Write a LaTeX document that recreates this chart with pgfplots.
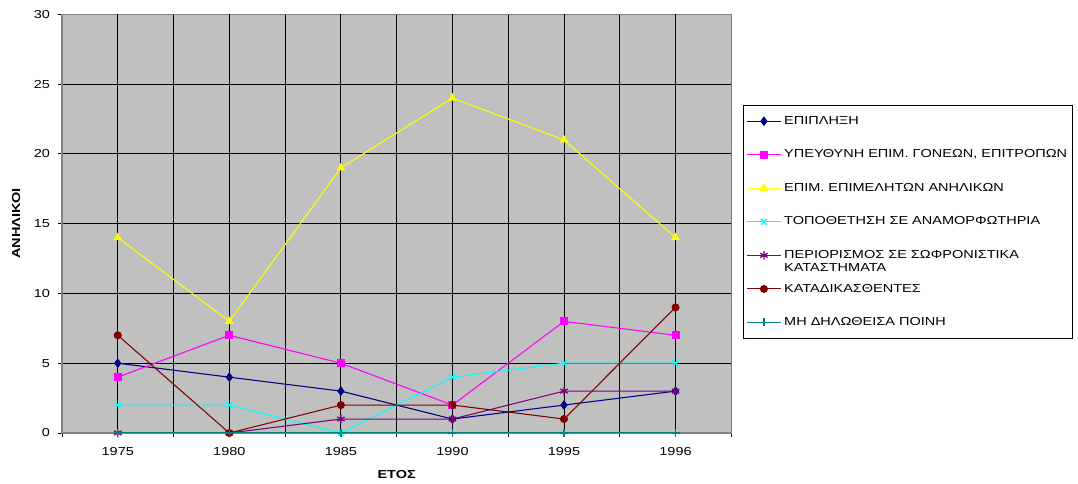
\documentclass[border=0pt]{standalone}
\usepackage{pgfplots}
\pgfplotsset{compat=1.18}
\usepackage{fontspec}
\setmainfont[FakeStretch=1.25]{Liberation Sans}

\definecolor{xlNavy}{RGB}{0,0,128}
\definecolor{xlMagenta}{RGB}{255,0,255}
\definecolor{xlYellow}{RGB}{255,255,0}
\definecolor{xlCyan}{RGB}{0,255,255}
\definecolor{xlPurple}{RGB}{128,0,128}
\definecolor{xlDarkRed}{RGB}{128,0,0}
\definecolor{xlTeal}{RGB}{0,128,128}
\definecolor{plotGray}{RGB}{192,192,192}
\definecolor{frameGray}{RGB}{128,128,128}

\newcommand{\lstrut}{\rule[-2.8pt]{0pt}{9pt}}

\begin{document}
\begin{tikzpicture}
\begin{axis}[
    width=502pt, height=314pt, scale only axis,
    xmin=-0.5, xmax=5.5, ymin=0, ymax=30,
    xtick={-0.5,0.5,...,5.5}, xticklabels={},
    extra x ticks={0,1,2,3,4,5},
    extra x tick labels={1975,1980,1985,1990,1995,1996},
    extra x tick style={grid=major, major tick length=0pt},
    ytick={0,5,...,30},
    grid=major,
    major grid style={black, line width=0.6pt},
    tick align=outside, major tick length=3pt, tick pos=left,
    tick style={black, line width=0.6pt},
    axis line style={frameGray, line width=1pt},
    axis background/.style={fill=plotGray},
    tick label style={font=\fontsize{8.7}{10}\selectfont},
    xticklabel style={yshift=-7.5pt},
    yticklabel style={xshift=-2.5pt},
    /pgf/number format/assume math mode=true,
    xlabel={\textbf{ΕΤΟΣ}},
    ylabel={\textbf{ΑΝΗΛΙΚΟΙ}},
    xlabel style={at={(axis description cs:0.5,-0.098)}, anchor=center, font=\fontsize{8.7}{10}\selectfont},
    ylabel style={at={(axis description cs:-0.0687,0.5)}, anchor=center, font=\fontsize{8.7}{10}\selectfont},
    legend style={at={(axis description cs:1.018,0.783)}, anchor=north west,
        draw=black, fill=white, font=\fontsize{8.7}{10}\selectfont,
        row sep=13.45pt, inner xsep=2pt, inner ysep=6pt},
    legend cell align=left,
    legend image code/.code={\draw[mark repeat=2,mark phase=2] plot coordinates {(0cm,0cm) (0.45cm,0cm) (0.9cm,0cm)};},
    every axis plot/.append style={line width=0.8pt},
]
\addplot[xlNavy, mark=diamond*, mark size=3pt, mark options={solid, fill=xlNavy}] coordinates {
    (0,5) (1,4) (2,3) (3,1) (4,2) (5,3)};
\addlegendentry{\lstrut ΕΠΙΠΛΗΞΗ}
\addplot[xlMagenta, mark=square*, mark size=2.6pt, mark options={fill=xlMagenta}] coordinates {
    (0,4) (1,7) (2,5) (3,2) (4,8) (5,7)};
\addlegendentry{\lstrut ΥΠΕΥΘΥΝΗ ΕΠΙΜ. ΓΟΝΕΩΝ, ΕΠΙΤΡΟΠΩΝ}
\addplot[xlYellow, mark=triangle*, mark size=3pt, mark options={fill=xlYellow}] coordinates {
    (0,14) (1,8) (2,19) (3,24) (4,21) (5,14)};
\addlegendentry{\lstrut ΕΠΙΜ. ΕΠΙΜΕΛΗΤΩΝ ΑΝΗΛΙΚΩΝ}
\addplot[xlCyan, mark=x, mark size=3.2pt, mark options={line width=1pt}] coordinates {
    (0,2) (1,2) (2,0) (3,4) (4,5) (5,5)};
\addlegendentry{\lstrut ΤΟΠΟΘΕΤΗΣΗ ΣΕ ΑΝΑΜΟΡΦΩΤΗΡΙΑ}
\addplot[xlPurple, mark=asterisk, mark size=3.2pt, mark options={line width=1pt}] coordinates {
    (0,0) (1,0) (2,1) (3,1) (4,3) (5,3)};
\addlegendentry{\lstrut\smash{\vtop{\hbox{ΠΕΡΙΟΡΙΣΜΟΣ ΣΕ ΣΩΦΡΟΝΙΣΤΙΚΑ}\hbox{ΚΑΤΑΣΤΗΜΑΤΑ}}}}
\addplot[xlDarkRed, mark=*, mark size=2.6pt, mark options={fill=xlDarkRed}] coordinates {
    (0,7) (1,0) (2,2) (3,2) (4,1) (5,9)};
\addlegendentry{\lstrut ΚΑΤΑΔΙΚΑΣΘΕΝΤΕΣ}
\addplot[xlTeal, mark=+, mark size=3pt, mark options={line width=1pt}] coordinates {
    (0,0) (1,0) (2,0) (3,0) (4,0) (5,0)};
\addlegendentry{\lstrut ΜΗ ΔΗΛΩΘΕΙΣΑ ΠΟΙΝΗ}
\end{axis}
\pgfresetboundingbox
\path[use as bounding box] (current axis.south west) ++(-46.5pt,-38.25pt) rectangle ++(808.5pt,363pt);
\end{tikzpicture}
\end{document}
